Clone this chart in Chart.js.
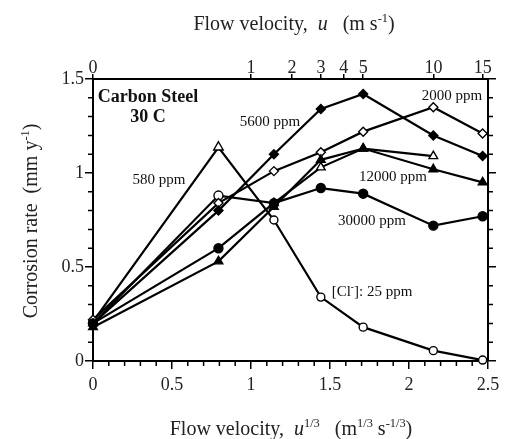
<!DOCTYPE html>
<html>
<head>
<meta charset="utf-8">
<script src="https://cdn.jsdelivr.net/npm/chart.js@4/dist/chart.umd.min.js"></script>
<style>
html,body{margin:0;padding:0;background:#fff;}
#wrap{width:505px;height:439px;position:relative;}
</style>
</head>
<body>
<div id="wrap"><canvas id="c" width="505" height="439"></canvas></div>
<script>
// x values are u^(1/3) for u = 0, 0.5, 1.5, 3, 5, 10, 15 m/s
const xVals = [0, 0.794, 1.145, 1.442, 1.710, 2.154, 2.466];
const topVelocities = [0, 1, 2, 3, 4, 5, 10, 15];

const cl25    = [0.21, 1.137, 0.75, 0.34, 0.18, 0.055, 0.005];
const cl580   = [0.20, 0.88, 0.84, 1.03, 1.13, 1.09, null];
const cl2000  = [0.22, 0.84, 1.01, 1.11, 1.22, 1.35, 1.21];
const cl5600  = [0.20, 0.80, 1.10, 1.34, 1.42, 1.20, 1.09];
const cl12000 = [0.18, 0.53, 0.82, 1.07, 1.13, 1.02, 0.95];
const cl30000 = [0.20, 0.60, 0.84, 0.92, 0.89, 0.72, 0.77];

const labels = [
  {text: '5600 ppm', x: 270, y: 122},
  {text: '580 ppm', x: 159, y: 180},
  {text: '2000 ppm', x: 452, y: 96},
  {text: '12000 ppm', x: 393, y: 177},
  {text: '30000 ppm', x: 372, y: 221}
];

function pts(ys){ return xVals.map((x,i)=>({x:x, y:ys[i]})).filter(p=>p.y!==null); }

const SERIF = '"Liberation Serif", "DejaVu Serif", serif';

function ds(ys, style, filled, radius, order){
  return {
    data: pts(ys),
    showLine: true,
    borderColor: '#000',
    borderWidth: 2.2,
    tension: 0,
    pointStyle: style,
    pointRadius: radius,
    pointBorderWidth: 1.4,
    pointBorderColor: '#000',
    pointBackgroundColor: filled ? '#000' : '#fff',
    clip: false,
    order: order
  };
}

const datasets = [
  ds(cl25, ['circle','triangle','circle','circle','circle','circle','circle'], false, [4,5.5,4,4,4,4,4], 6),
  ds(cl580, ['triangle','circle','triangle','triangle','triangle','triangle'], false, [5,4.5,5,5,5,5], 5),
  ds(cl2000, 'rectRot', false, 4.5, 4),
  ds(cl12000, 'triangle', true, 5, 3),
  ds(cl30000, 'circle', true, 4.5, 2),
  ds(cl5600, 'rectRot', true, 4.5, 1)
];

function drawRich(ctx, parts, size, cx, baseline){
  let total = 0;
  const measured = parts.map(p=>{
    const fs = p.sup ? size*0.62 : size;
    ctx.font = (p.italic?'italic ':'') + (p.bold?'bold ':'') + fs + 'px ' + SERIF;
    const w = ctx.measureText(p.t).width;
    total += w;
    return {p, fs, w};
  });
  let x = cx - total/2;
  ctx.textAlign = 'left';
  ctx.textBaseline = 'alphabetic';
  measured.forEach(m=>{
    ctx.font = (m.p.italic?'italic ':'') + (m.p.bold?'bold ':'') + m.fs + 'px ' + SERIF;
    ctx.fillText(m.p.t, x, m.p.sup ? baseline - size*0.42 : baseline);
    x += m.w;
  });
}

const decor = {
  id: 'decor',
  afterDraw(chart){
    const ctx = chart.ctx;
    const xs = chart.scales.x, ys = chart.scales.y;
    const a = chart.chartArea;
    ctx.save();
    ctx.strokeStyle = '#000';
    ctx.fillStyle = '#000';
    ctx.lineWidth = 1.5;
    // minor ticks
    for(let i=0;i<=15;i++){
      if(i%5===0) continue;
      const py = ys.getPixelForValue(i/10);
      ctx.beginPath();
      ctx.moveTo(a.left, py); ctx.lineTo(a.left-5, py);
      ctx.moveTo(a.right, py); ctx.lineTo(a.right+5, py);
      ctx.stroke();
    }
    for(let i=0;i<=25;i++){
      if(i%5===0) continue;
      const px = xs.getPixelForValue(i/10);
      ctx.beginPath();
      ctx.moveTo(px, a.bottom); ctx.lineTo(px, a.bottom+5);
      ctx.stroke();
    }
    // axis titles
    ctx.fillStyle = '#222';
    drawRich(ctx, [
      {t:'Flow velocity,  '}, {t:'u', italic:true}, {t:'   (m s'}, {t:'-1', sup:true}, {t:')'}
    ], 20, 294, 30);
    drawRich(ctx, [
      {t:'Flow velocity,  '}, {t:'u', italic:true}, {t:'1/3', sup:true}, {t:'   (m'}, {t:'1/3', sup:true}, {t:' s'}, {t:'-1/3', sup:true}, {t:')'}
    ], 20, 291, 435);
    ctx.save();
    ctx.translate(37, 221);
    ctx.rotate(-Math.PI/2);
    drawRich(ctx, [
      {t:'Corrosion rate  (mm y'}, {t:'-1', sup:true}, {t:')'}
    ], 20, 0, 0);
    ctx.restore();
    // annotations
    ctx.font = 'bold 18px ' + SERIF;
    ctx.textAlign = 'center';
    ctx.textBaseline = 'middle';
    ctx.fillStyle = '#111';
    ctx.fillText('Carbon Steel', 148, 97);
    ctx.fillText('30 C', 148, 117);
    ctx.font = '15px ' + SERIF;
    labels.forEach(l=>ctx.fillText(l.text, l.x, l.y));
    drawRich(ctx, [{t:'[Cl'}, {t:'-', sup:true}, {t:']: 25 ppm'}], 15, 372, 296);
    ctx.restore();
  }
};

const plainNum = v => String(Number(v));

new Chart(document.getElementById('c'), {
  type: 'scatter',
  data: { datasets },
  options: {
    responsive: false,
    animation: false,
    devicePixelRatio: 1,
    plugins: { legend: {display:false}, tooltip: {enabled:false} },
    layout: { padding: 0 },
    scales: {
      x: {
        type: 'linear', position: 'bottom', min: 0, max: 2.5,
        afterFit(s){ s.height = 78; },
        ticks: { stepSize: 0.5, color: '#222', font: {family: SERIF, size: 18}, padding: 5, maxRotation: 0, callback: plainNum },
        grid: { display: true, drawOnChartArea: false, drawTicks: true, tickLength: 8, color: '#000', lineWidth: 1.5 },
        border: { display: true, color: '#000', width: 2 }
      },
      x2: {
        type: 'linear', position: 'top', min: 0, max: 2.5,
        afterFit(s){ s.height = 79; },
        afterBuildTicks(s){ s.ticks = topVelocities.map(v=>({value: Math.cbrt(v), label: String(v)})); },
        ticks: { color: '#222', font: {family: SERIF, size: 18}, padding: -5, maxRotation: 0, autoSkip: false,
                 callback(v, i){ return String(topVelocities[i]); } },
        grid: { display: true, drawOnChartArea: false, drawTicks: true, tickLength: 5, color: '#000', lineWidth: 1.5 },
        border: { display: true, color: '#000', width: 2 }
      },
      y: {
        type: 'linear', position: 'left', min: 0, max: 1.5,
        afterFit(s){ s.width = 93; },
        ticks: { stepSize: 0.5, color: '#222', font: {family: SERIF, size: 18}, padding: 1, callback: plainNum },
        grid: { display: true, drawOnChartArea: false, drawTicks: true, tickLength: 8, color: '#000', lineWidth: 1.5 },
        border: { display: true, color: '#000', width: 2 }
      },
      y2: {
        type: 'linear', position: 'right', min: 0, max: 1.5,
        afterFit(s){ s.width = 17; },
        ticks: { stepSize: 0.5, display: false },
        grid: { display: true, drawOnChartArea: false, drawTicks: true, tickLength: 8, color: '#000', lineWidth: 1.5 },
        border: { display: true, color: '#000', width: 2 }
      }
    }
  },
  plugins: [decor]
});
</script>
</body>
</html>
